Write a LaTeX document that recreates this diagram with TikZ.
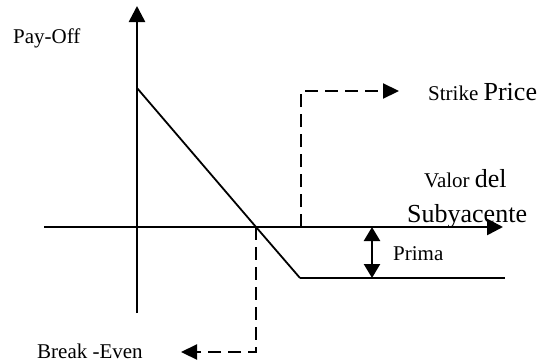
\documentclass[tikz,border=0pt]{standalone}
\usepackage{fontspec}
\setmainfont{Liberation Serif}
\usetikzlibrary{arrows.meta}
\newcommand{\fsmall}{\fontsize{21}{25}\selectfont}
\newcommand{\fbig}{\fontsize{26}{30}\selectfont}
\tikzset{
  axis/.style={line width=2.6pt, -{Triangle[length=16pt,width=16pt]}},
  payoff/.style={line width=1.8pt},
  dashline/.style={line width=2.2pt, dash pattern=on 13pt off 7pt, -{Triangle[length=16pt,width=15pt]}},
  prima/.style={line width=2.4pt, {Triangle[length=14pt,width=16pt]}-{Triangle[length=14pt,width=16pt]}},
  lbl/.style={inner sep=0pt, anchor=base west}
}
\begin{document}
\begin{tikzpicture}[x=1pt,y=-1pt]
\useasboundingbox (0,0) rectangle (541,362);
% points
\coordinate (ybot) at (137,313);
\coordinate (ytop) at (137,6);
\coordinate (xl) at (44,227);
\coordinate (xr) at (503,227);
\coordinate (P0) at (137,88);
\coordinate (BE) at (256,227);
\coordinate (K) at (300,278);
\coordinate (Pend) at (505,278);
\coordinate (S1) at (301,227);
\coordinate (S2) at (301,91);
\coordinate (S3) at (399,91);
\coordinate (B2) at (256,352);
\coordinate (B3) at (181,352);
\coordinate (PR1) at (372,227);
\coordinate (PR2) at (372,278);
% axes
\draw[axis] (ybot) -- (ytop);
\draw[axis] (xl) -- (xr);
% payoff
\draw[payoff] (P0) -- (BE) -- (K);
\draw[line width=2.4pt] (K) -- (Pend);
% dashed
\draw[dashline] (S1) -- (S2) -- (S3);
\draw[dashline] (BE) -- (B2) -- (B3);
% prima
\draw[prima] (PR2) -- (PR1);
% labels
\node[lbl] (payoff) at (13,43) {\fsmall Pay-Off};
\node[lbl] (strike) at (428,100) {\fsmall Strike \fbig Price};
\node[lbl] (valor) at (424,187) {\fsmall Valor \fbig del};
\node[lbl] (suby) at (407,222) {\fbig Subyacente};
\node[lbl] (prima) at (393,260) {\fsmall Prima};
\node[lbl] (be) at (37,358) {\fsmall Break -Even};
\end{tikzpicture}
\end{document}
